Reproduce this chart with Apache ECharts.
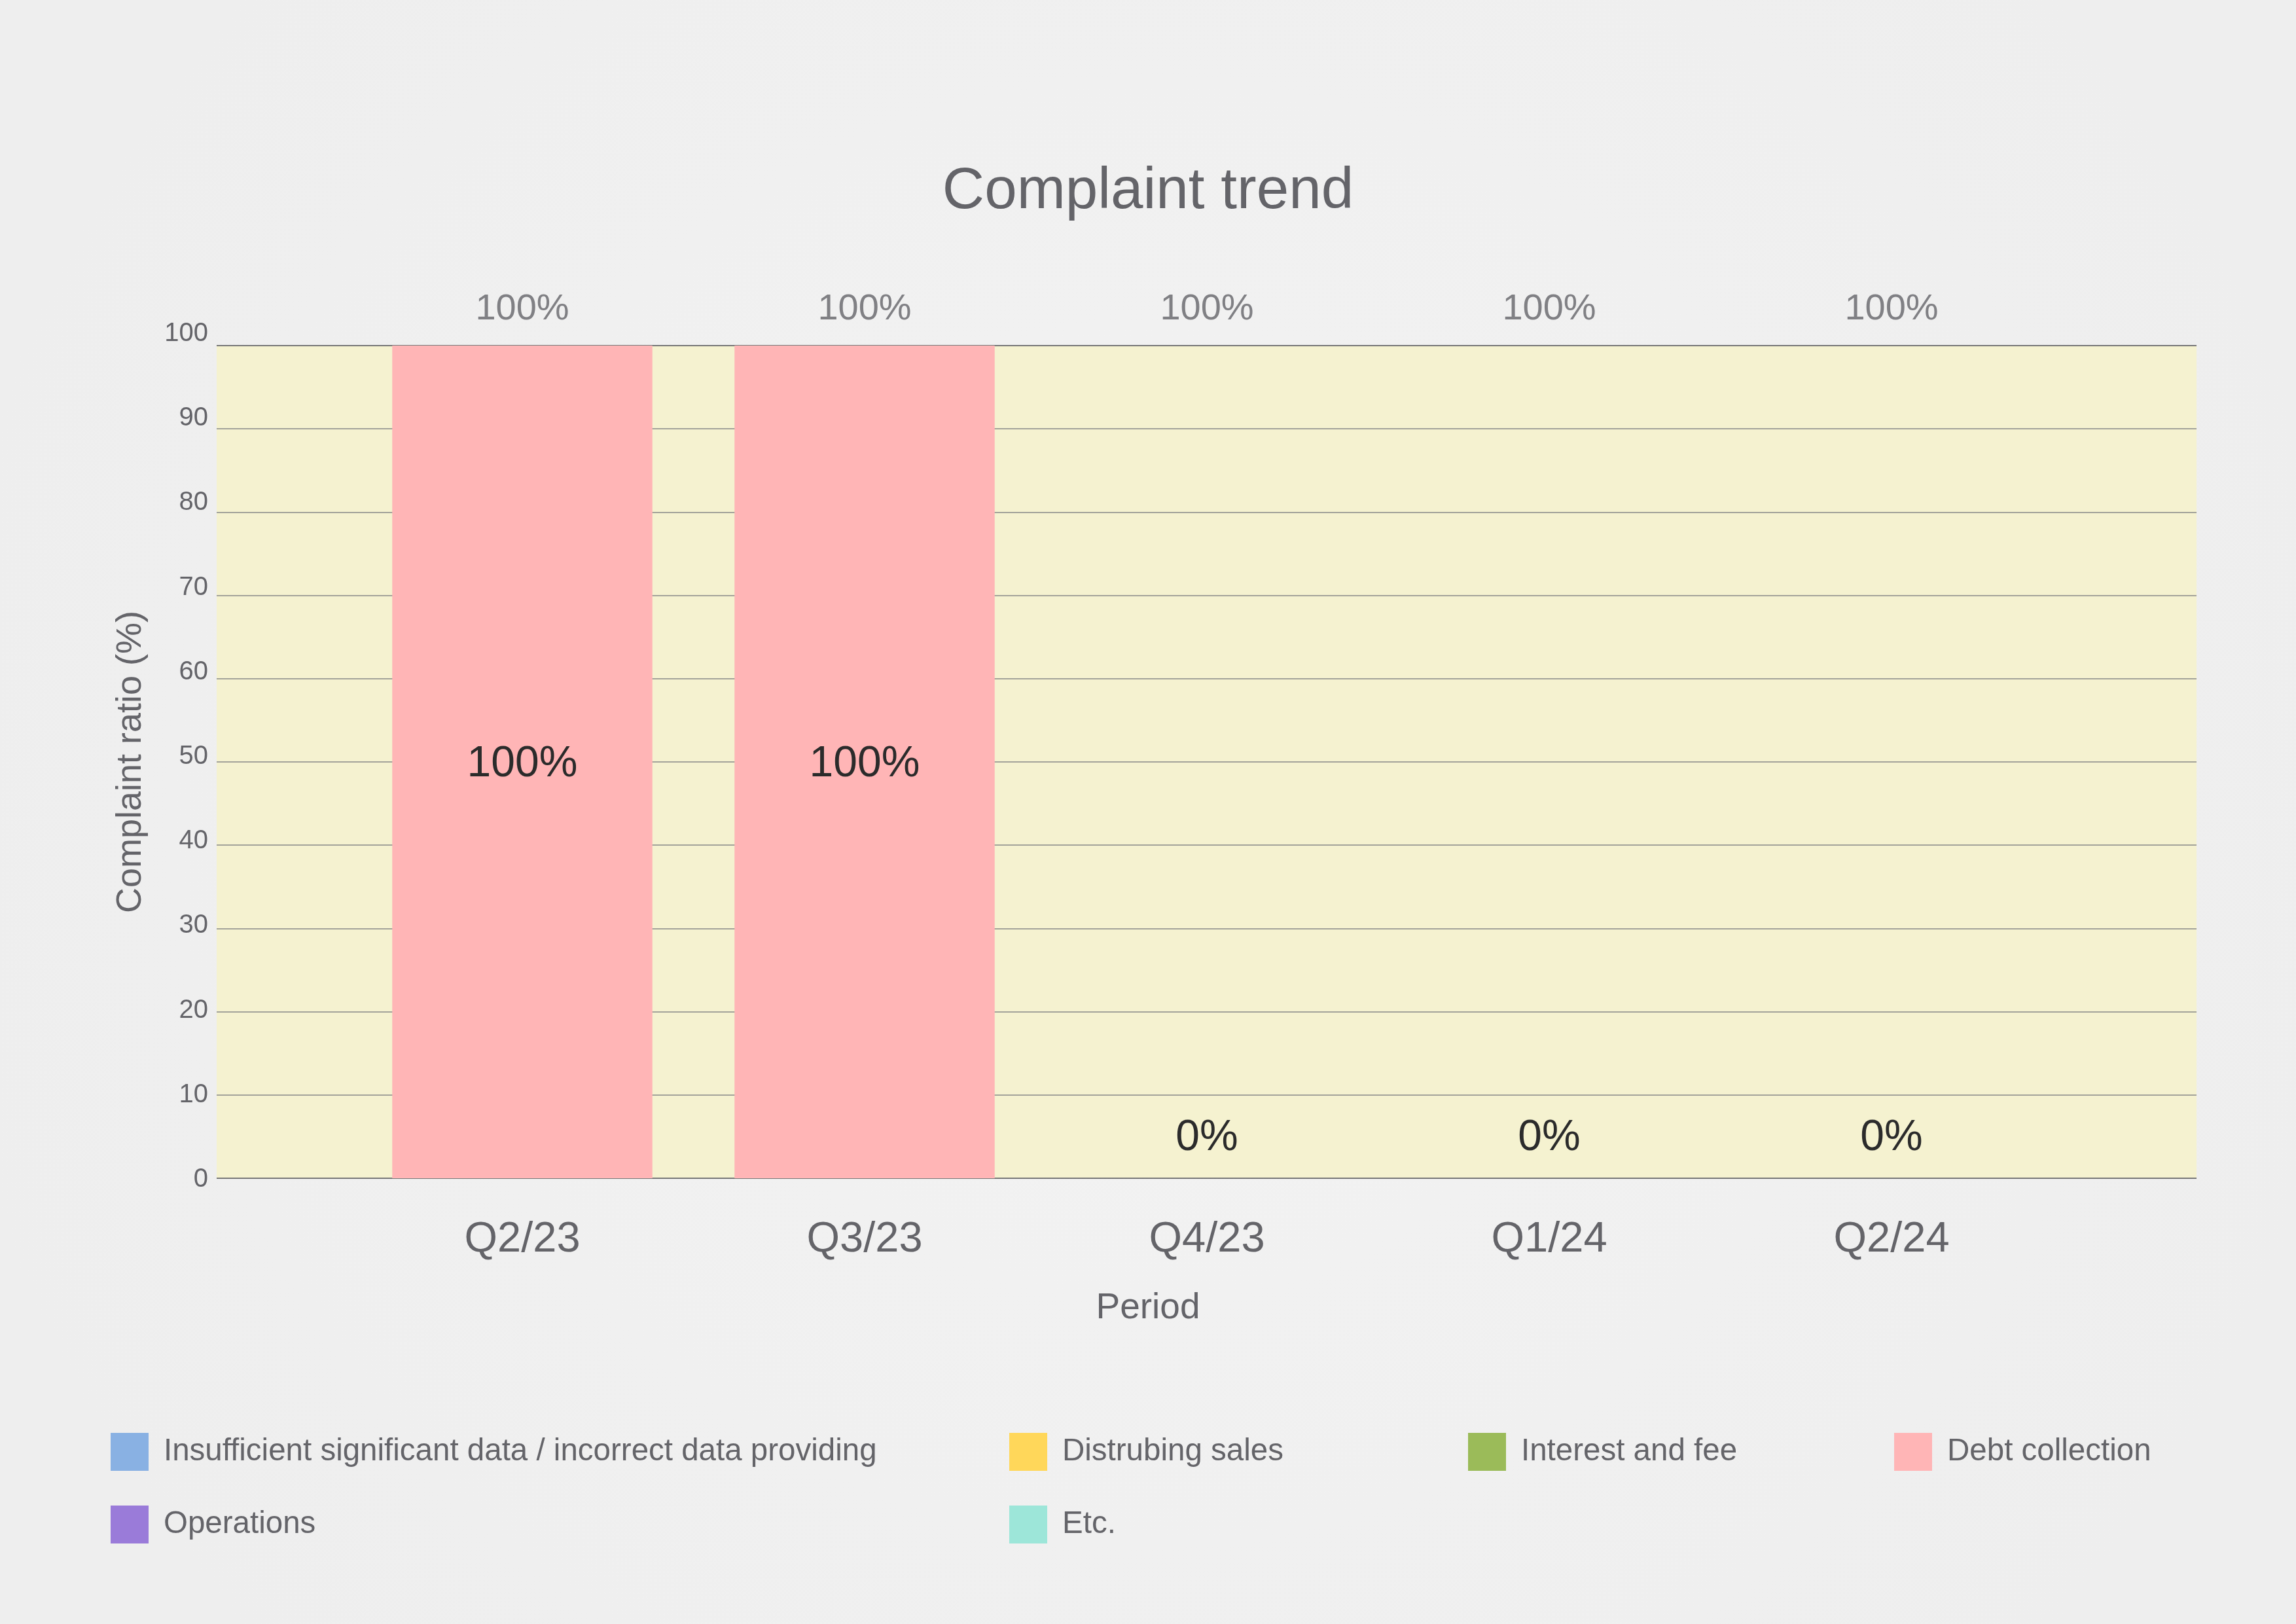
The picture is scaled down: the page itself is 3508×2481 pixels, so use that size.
<!DOCTYPE html>
<html>
<head>
<meta charset="utf-8">
<script src="https://cdn.jsdelivr.net/npm/echarts@6/dist/echarts.min.js"></script>
<style>
  html, body { margin: 0; padding: 0; background: #f0f0f0; }
  #chart { width: 3508px; height: 2481px; }
</style>
</head>
<body>
<div id="chart"></div>
<script>
// ---- Data ----
const categories = ['Q2/23', 'Q3/23', 'Q4/23', 'Q1/24', 'Q2/24'];
const seriesNames = [
  'Insufficient significant data / incorrect data providing',
  'Distrubing sales',
  'Interest and fee',
  'Debt collection',
  'Operations',
  'Etc.'
];
const insufficientData = [0, 0, 0, 0, 0];
const disturbingSales = [0, 0, 0, 0, 0];
const interestAndFee = [0, 0, 0, 0, 0];
const debtCollection = [100, 100, 0, 0, 0];
const operations = [0, 0, 0, 0, 0];
const etc = [0, 0, 0, 0, 0];
const totals = [100, 100, 100, 100, 100];
const yTicks = [0, 10, 20, 30, 40, 50, 60, 70, 80, 90, 100];

// ---- Styling ----
const FONT = "'Liberation Sans', Arial, Helvetica, sans-serif";
const GRAY = '#646469';
const colors = ['#89b1e3', '#ffd75a', '#9bbb59', '#ffb5b6', '#9a7bd9', '#9de6d9'];
const seriesData = [insufficientData, disturbingSales, interestAndFee, debtCollection, operations, etc];

const chart = echarts.init(document.getElementById('chart'), null, { renderer: 'canvas' });

const barSeries = seriesNames.map((name, i) => {
  const labelled = name === 'Debt collection';
  return {
    name: name,
    type: 'bar',
    stack: 'total',
    xAxisIndex: 1,
    yAxisIndex: 1,
    barWidth: '76%',
    itemStyle: { color: colors[i] },
    data: seriesData[i].map(v => ({
      value: v,
      label: labelled ? {
        show: true,
        position: v > 0 ? 'inside' : 'top',
        offset: [0, v > 0 ? 4 : 0],
        distance: 28,
        formatter: p => p.value + '%',
        color: '#2b2b2b',
        fontSize: 66,
        fontFamily: FONT
      } : { show: false }
    }))
  };
});

const totalSeries = {
  name: 'total',
  type: 'scatter',
  xAxisIndex: 1,
  yAxisIndex: 1,
  symbolSize: 1,
  itemStyle: { color: 'rgba(0,0,0,0)' },
  label: {
    show: true,
    position: 'top',
    distance: 27,
    formatter: p => p.value + '%',
    color: GRAY,
    fontSize: 56,
    fontFamily: FONT
  },
  silent: true,
  data: totals
};

const legendBase = {
  orient: 'vertical',
  top: 2189,
  padding: 0,
  itemWidth: 58,
  itemHeight: 58,
  itemGap: 53,
  icon: 'rect',
  textStyle: { color: GRAY, fontSize: 47.5, fontFamily: FONT, padding: [0, 0, 0, 18] }
};

const option = {
  backgroundColor: {
    type: 'radial', x: 0.5, y: 0.5, r: 0.75,
    colorStops: [{ offset: 0, color: '#f3f3f3' }, { offset: 1, color: '#eeeeee' }]
  },
  animation: false,
  title: [
    {
      text: 'Complaint trend', left: 'center', top: 249, padding: 0,
      textStyle: { color: GRAY, fontSize: 89, fontWeight: 'normal', fontFamily: FONT }
    },
    {
      text: 'Period', left: 'center', top: 1971, padding: 0,
      textStyle: { color: GRAY, fontSize: 55, fontWeight: 'normal', fontFamily: FONT }
    }
  ],
  legend: [
    Object.assign({}, legendBase, { left: 169, data: [seriesNames[0], seriesNames[4]] }),
    Object.assign({}, legendBase, { left: 1542, data: [seriesNames[1], seriesNames[5]] }),
    Object.assign({}, legendBase, { left: 2243, data: [seriesNames[2]] }),
    Object.assign({}, legendBase, { left: 2894, data: [seriesNames[3]] })
  ],
  grid: [
    { left: 331, right: 152, top: 528, bottom: 681, show: true, backgroundColor: '#f5f2d0', borderWidth: 0 },
    { left: 536.5, right: 356.5, top: 528, bottom: 681 },
    { left: 331, right: 152, top: 510, bottom: 679 }
  ],
  xAxis: [
    {
      gridIndex: 0, type: 'value', min: 0, max: 1,
      axisLine: { show: false }, axisTick: { show: false }, axisLabel: { show: false }, splitLine: { show: false }
    },
    {
      gridIndex: 1, type: 'category', data: categories,
      axisLine: { show: false }, axisTick: { show: false },
      axisLabel: { color: GRAY, fontSize: 65, fontFamily: FONT, margin: 62 }
    },
    {
      gridIndex: 2, type: 'value', min: 0, max: 1, show: false
    }
  ],
  yAxis: [
    {
      gridIndex: 0, type: 'value', min: yTicks[0], max: yTicks[yTicks.length - 1], interval: 10,
      name: 'Complaint ratio (%)', nameLocation: 'middle', nameGap: 104,
      nameTextStyle: { color: GRAY, fontSize: 54, fontFamily: FONT },
      axisLine: { show: false }, axisTick: { show: false },
      axisLabel: { show: false },
      splitLine: {
        show: true,
        lineStyle: {
          color: yTicks.map((t, i) => (i === 0 || i === yTicks.length - 1) ? '#767676' : '#a3a39a'),
          width: 2
        }
      }
    },
    {
      gridIndex: 1, type: 'value', min: 0, max: 100, show: false
    },
    {
      gridIndex: 2, type: 'value', min: yTicks[0], max: yTicks[yTicks.length - 1], interval: 10,
      axisLine: { show: false }, axisTick: { show: false }, splitLine: { show: false },
      axisLabel: { color: GRAY, fontSize: 40, fontFamily: FONT, margin: 13 }
    }
  ],
  series: barSeries.concat([totalSeries])
};

chart.setOption(option);
</script>
</body>
</html>
